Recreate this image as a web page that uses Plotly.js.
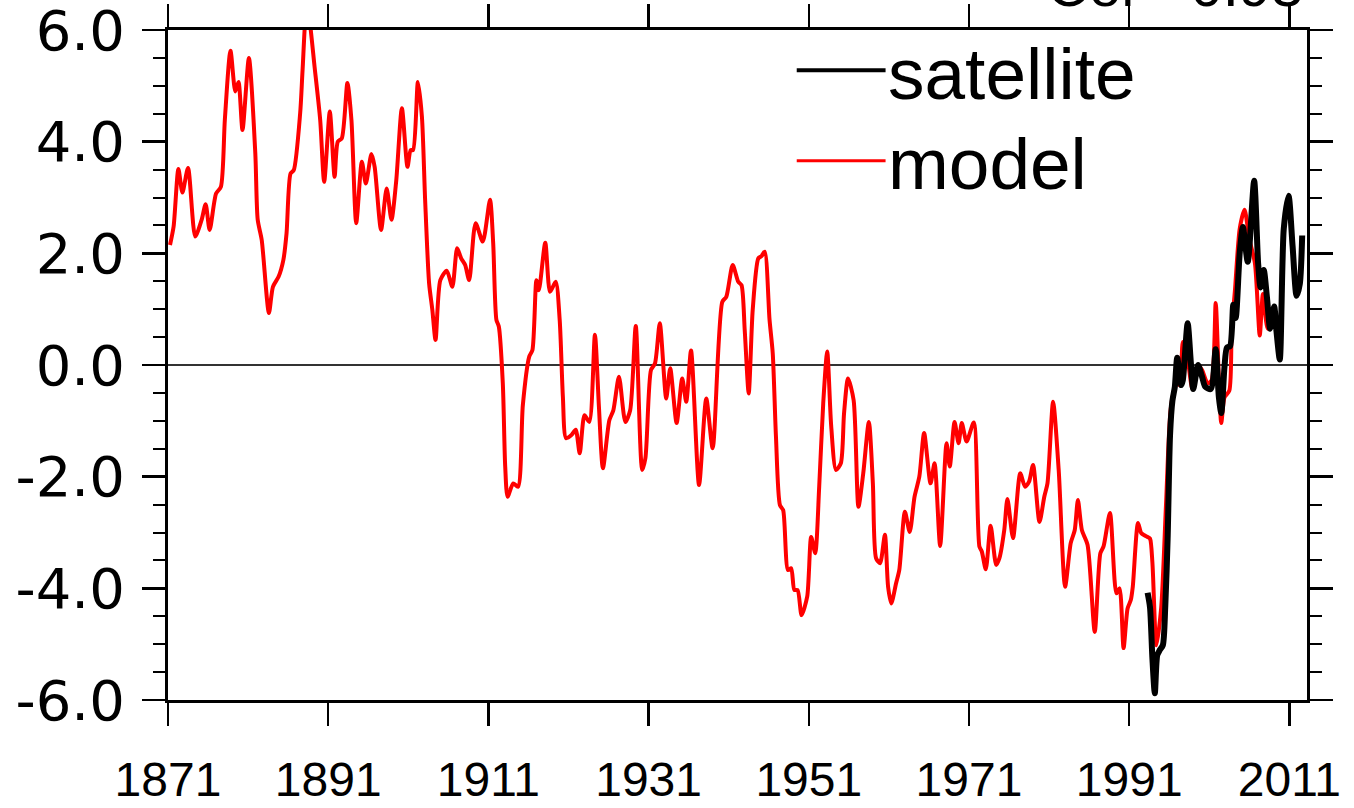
<!DOCTYPE html>
<html>
<head>
<meta charset="utf-8">
<script src="https://cdn.plot.ly/plotly-3.0.1.min.js"></script>
<style>
html,body{margin:0;padding:0;background:#fff;}
#chart{width:1354px;height:808px;}
</style>
</head>
<body>
<div id="chart"></div>
<script>
// ---- data ----
const modelYears = [
1871.25,1871.7,1872.3,1872.8,1873.5,1874.4,1875.2,1875.7,1876.2,1877.0,1877.6,1878.1,1878.8,1879.4,1879.8,1880.3,1881.1,1881.9,1882.2,1882.7,
1883.6,1884.1,1884.8,1885.4,1885.8,1886.3,1886.7,1887.5,1887.8,1888.3,1888.6,1889.3,1890.0,1890.5,1891.2,1891.8,1892.2,1892.7,1893.4,1893.9,
1894.5,1895.2,1895.7,1896.4,1896.8,1897.6,1898.3,1898.9,1899.5,1900.2,1900.9,1901.3,1901.6,1902.2,1902.7,1903.1,1903.6,1904.0,1904.4,1905.0,
1905.8,1906.5,1907.1,1907.6,1908.1,1908.6,1909.4,1910.3,1911.2,1911.6,1912.0,1912.3,1912.8,1913.1,1913.4,1914.1,1914.7,1915.3,1916.1,1916.5,
1917.0,1917.3,1918.1,1918.7,1919.4,1919.9,1920.3,1920.7,1921.4,1921.9,1922.4,1923.0,1923.6,1924.3,1924.8,1925.3,1926.1,1926.6,1927.3,1928.1,
1928.7,1929.4,1930.2,1930.6,1931.3,1931.8,1932.4,1933.2,1933.7,1934.5,1935.2,1935.7,1936.3,1937.3,1938.2,1939.0,1940.2,1940.7,1941.5,1942.2,
1942.6,1943.0,1943.5,1944.0,1944.7,1945.1,1945.5,1946.1,1946.5,1946.9,1947.4,1947.8,1948.4,1948.8,1949.2,1949.6,1950.1,1950.8,1951.3,1951.8,
1952.3,1952.8,1953.3,1953.8,1954.4,1955.0,1955.4,1955.9,1956.6,1957.2,1957.8,1958.5,1959.0,1959.4,1959.9,1960.5,1960.9,1961.3,1961.9,1962.3,
1963.0,1963.6,1964.2,1964.8,1965.4,1966.2,1966.7,1967.4,1968.2,1968.6,1969.2,1969.7,1970.1,1970.7,1971.6,1972.3,1972.6,1973.1,1973.7,1974.4,
1974.8,1975.4,1975.8,1976.5,1977.4,1978.0,1978.5,1979.0,1979.8,1980.4,1980.8,1981.5,1982.2,1983.0,1983.7,1984.2,1984.6,1985.1,1985.8,1986.7,
1987.4,1987.8,1988.6,1989.4,1989.8,1990.3,1990.8,1991.2,1991.45,1992.1,1992.5,1992.9,1993.3,1993.6,1993.9,1994.4,1995.0,1995.6,1996.2,1996.9,
1997.3,1997.7,1998.3,1998.9,1999.6,2000.1,2000.8,2001.3,2001.8,2002.2,2002.5,2002.9,2003.5,2003.8,2004.2,2004.8,2005.4,2006.0,2006.7,2007.3,
2007.7,2008.3,2008.9
];
const modelValues = [
2.15,2.48,3.51,3.09,3.53,2.30,2.60,2.88,2.42,3.07,3.19,4.40,5.63,4.90,5.07,4.21,5.50,3.79,2.60,2.24,
0.93,1.40,1.58,1.88,2.36,3.43,3.49,4.51,5.28,6.40,6.25,5.34,4.39,3.28,4.54,3.37,4.00,4.06,5.05,4.39,
2.54,3.64,3.25,3.78,3.55,2.42,3.16,2.60,3.31,4.60,3.55,3.85,3.85,5.07,4.45,2.96,1.46,0.99,0.45,1.52,
1.69,1.40,2.09,1.91,1.79,1.52,2.54,2.21,2.96,2.18,0.81,0.69,-0.33,-1.82,-2.36,-2.12,-2.18,-0.72,0.15,0.27,
1.52,1.34,2.19,1.31,1.49,0.81,-0.57,-1.31,-1.25,-1.16,-1.58,-0.90,-1.02,0.54,-0.75,-1.85,-0.99,-0.81,-0.21,-1.02,
-0.81,0.70,-1.88,-1.67,-0.09,0.03,0.75,-0.60,-0.06,-1.04,-0.24,-0.66,0.26,-2.15,-0.60,-1.49,1.13,1.22,1.79,1.49,
1.43,0.63,-0.51,0.99,1.91,1.95,2.03,0.81,0.21,-1.28,-2.51,-2.60,-3.67,-3.64,-4.03,-4.03,-4.48,-4.15,-3.08,-3.37,
-2.18,-0.69,0.24,-1.10,-1.88,-1.76,-0.87,-0.24,-0.63,-2.54,-1.94,-1.02,-2.12,-3.46,-3.55,-3.04,-3.97,-4.27,-3.91,-3.67,
-2.63,-2.99,-2.36,-2.00,-1.22,-2.12,-1.76,-3.24,-1.40,-1.82,-1.02,-1.40,-1.04,-1.37,-1.03,-3.25,-3.34,-3.66,-2.88,-3.58,
-3.46,-2.96,-2.40,-3.10,-1.94,-2.18,-2.09,-1.79,-2.81,-2.36,-2.12,-0.66,-1.88,-3.97,-3.19,-2.96,-2.42,-2.96,-3.22,-4.78,
-3.37,-3.25,-2.65,-4.09,-4.00,-5.07,-4.36,-4.21,-3.97,-2.83,-3.01,-3.05,-3.08,-3.11,-3.54,-5.02,-4.34,-2.49,-0.77,-0.33,
-0.36,0.41,0.10,-0.43,0.00,-0.09,-0.33,-0.27,1.11,-0.27,-1.04,-0.58,-0.46,0.65,1.33,2.44,2.78,2.26,1.82,0.53,
1.27,0.65,0.78
];
const satYears = [
1993.3,1993.6,1993.9,1994.2,1994.5,1994.8,1995.2,1995.5,1995.8,1996.1,1996.4,1996.7,1997.0,1997.5,1997.7,1998.3,1998.7,1999.0,1999.6,2000.1,
2000.5,2001.2,2001.8,2002.2,2002.5,2002.9,2003.2,2003.6,2004.0,2004.3,2004.8,2005.2,2005.8,2006.6,2007.1,2007.4,2007.8,2008.2,2008.6,2009.1,
2009.4,2009.8,2010.3,2010.9,2011.4,2011.9,2012.3,2012.6
];
const satValues = [
-4.08,-4.34,-5.26,-5.88,-5.20,-5.11,-5.02,-4.34,-3.11,-1.26,-0.64,-0.39,0.13,-0.36,-0.27,0.75,0.04,-0.43,0.00,-0.21,
-0.39,-0.43,0.28,-0.58,-0.86,-0.03,0.31,0.34,1.08,0.84,2.01,2.47,1.85,3.30,1.82,1.39,1.70,1.21,0.65,1.05,
0.59,0.10,2.44,3.03,2.13,1.24,1.45,2.32
];
const xTickVals = [1871,1891,1911,1931,1951,1971,1991,2011];
const yTickVals = [-6,-4,-2,0,2,4,6];
const seriesNames = ["satellite","model"];
const corrText = "Cor= 0.93";

const FONT = "'Liberation Sans', Arial, Helvetica, sans-serif";
const YFONT = "'DejaVu Sans', 'Liberation Sans', Arial, sans-serif";

const traces = [
  {x: modelYears, y: modelValues, type:'scatter', mode:'lines', name: seriesNames[1],
   line:{color:'#ff0000', width:4, shape:'spline', smoothing:0.7}, hoverinfo:'skip'},
  {x: satYears, y: satValues, type:'scatter', mode:'lines', name: seriesNames[0],
   line:{color:'#000000', width:6, shape:'spline', smoothing:0.7}, hoverinfo:'skip'}
];

const axisCommon = {
  showline:true, linecolor:'#000', linewidth:3, mirror:'ticks',
  ticks:'outside', tickcolor:'#000', tickwidth:2.5, ticklen:23,
  showgrid:false, ticklabeloverflow:'allow'
};

const layout = {
  width:1354, height:808,
  margin:{l:168, r:47, t:30, b:108},
  paper_bgcolor:'#fff', plot_bgcolor:'#fff',
  showlegend:false,
  xaxis: Object.assign({}, axisCommon, {
    range:[1871, 2013.2], tickmode:'array', tickvals:xTickVals,
    ticktext: xTickVals.map(String), zeroline:false,
    tickfont:{family:FONT, size:48, color:'#000'}, ticklabelstandoff:12
  }),
  yaxis: Object.assign({}, axisCommon, {
    range:[-6, 6], tickmode:'array', tickvals:yTickVals,
    ticktext: yTickVals.map(v => v.toFixed(1)),
    tickfont:{family:YFONT, size:56, color:'#000'}, ticklabelstandoff:6,
    zeroline:true, zerolinecolor:'#333', zerolinewidth:1.5,
    minor:{ticks:'outside', ticklen:12, tickwidth:2, tickcolor:'#000', dtick:0.5, showgrid:false}
  }),
  shapes:[
    {type:'line', xref:'paper', yref:'paper', x0:0.552, x1:0.63, y0:0.94, y1:0.94, line:{color:'#000', width:4}},
    {type:'line', xref:'paper', yref:'paper', x0:0.552, x1:0.63, y0:0.805, y1:0.805, line:{color:'#ff0000', width:3}}
  ],
  annotations:[
    {xref:'paper', yref:'paper', x:0.63, y:0.935, xanchor:'left', yanchor:'middle', showarrow:false,
     text: seriesNames[0], font:{family:FONT, size:73, color:'#000'}},
    {xref:'paper', yref:'paper', x:0.63, y:0.80, xanchor:'left', yanchor:'middle', showarrow:false,
     text: seriesNames[1], font:{family:FONT, size:73, color:'#000'}},
    {xref:'paper', yref:'paper', x:0.998, y:1.067, xanchor:'right', yanchor:'middle', showarrow:false,
     text: corrText, font:{family:FONT, size:58, color:'#000'}}
  ]
};

Plotly.newPlot('chart', traces, layout, {displayModeBar:false, staticPlot:true});
</script>
</body>
</html>
